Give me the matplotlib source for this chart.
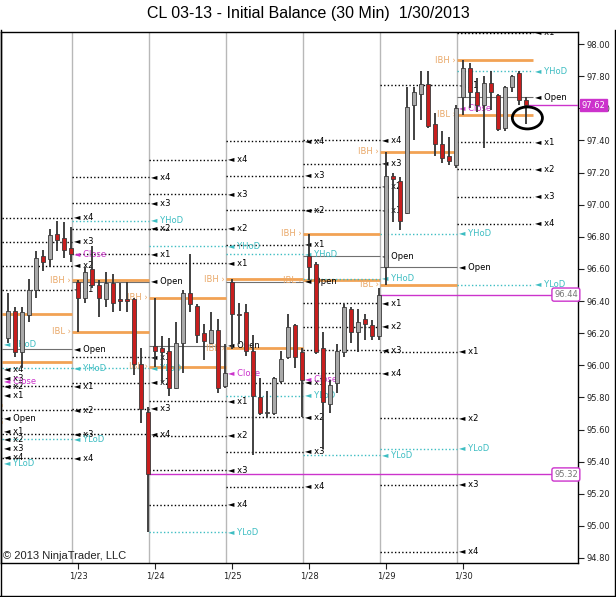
import numpy as np
import matplotlib.pyplot as plt
from matplotlib.patches import Ellipse
from matplotlib.lines import Line2D
import matplotlib.transforms as mtransforms

plt.rcParams['font.family'] = ['DejaVu Sans']

# 30 min bars, CL 03-13, 1/22 (partly visible) .. 1/30
opens = [96.17, 96.34, 96.08, 96.31, 96.47, 96.68, 96.66, 96.82, 96.79, 96.73,
         96.52, 96.42, 96.60, 96.50, 96.41, 96.51, 96.41, 96.41, 96.41, 96.01, 95.71,
         96.12, 96.11, 96.09, 95.86, 96.14, 96.45, 96.37, 96.20, 96.14, 96.22, 95.87,
         96.52, 96.32, 96.33, 96.09, 95.80, 95.70, 95.70, 95.90, 96.05, 96.25, 96.08,
         96.68, 96.63, 96.11, 95.76, 95.89, 96.08, 96.35, 96.21, 96.29, 96.25, 96.18,
         96.61, 97.18, 97.15, 96.95, 97.62, 97.69, 97.75, 97.50, 97.38, 97.30, 97.25,
         97.67, 97.85, 97.70, 97.62, 97.76, 97.68, 97.48, 97.73, 97.82, 97.65]
highs = [96.45, 96.36, 96.36, 96.54, 96.71, 96.72, 96.85, 96.90, 96.89, 96.86,
         96.53, 96.61, 96.74, 96.53, 96.58, 96.57, 96.51, 96.52, 96.42, 96.11, 95.74,
         96.42, 96.18, 96.17, 96.27, 96.47, 96.69, 96.38, 96.26, 96.33, 96.29, 96.13,
         96.54, 96.39, 96.38, 96.19, 95.92, 95.84, 95.93, 96.09, 96.32, 96.26, 96.11,
         96.82, 96.64, 96.21, 95.91, 96.13, 96.38, 96.36, 96.35, 96.32, 96.28, 96.48,
         97.33, 97.20, 97.17, 97.73, 97.73, 97.83, 97.83, 97.57, 97.46, 97.42, 97.62,
         97.90, 97.88, 97.79, 97.80, 97.83, 97.69, 97.74, 97.81, 97.83, 97.67]
lows = [96.14, 96.05, 95.98, 96.27, 96.42, 96.59, 96.61, 96.71, 96.67, 96.64,
        96.21, 96.39, 96.48, 96.30, 96.36, 96.33, 96.34, 96.33, 95.94, 95.64, 94.96,
        95.99, 95.89, 95.81, 95.85, 95.95, 96.33, 96.14, 96.03, 96.13, 95.83, 95.86,
        96.10, 96.13, 96.06, 95.44, 95.69, 95.68, 95.69, 95.89, 96.04, 95.98, 95.68,
        96.53, 96.07, 95.48, 95.70, 95.83, 96.05, 96.14, 96.08, 96.16, 96.16, 96.16,
        96.50, 96.89, 96.84, 96.94, 97.40, 97.53, 97.48, 97.30, 97.26, 97.25, 97.23,
        97.56, 97.60, 97.58, 97.35, 97.59, 97.46, 97.46, 97.70, 97.62, 97.50]
closes = [96.34, 96.08, 96.33, 96.47, 96.67, 96.64, 96.81, 96.78, 96.72, 96.69,
          96.42, 96.58, 96.50, 96.42, 96.51, 96.39, 96.40, 96.40, 96.01, 95.73, 95.32,
          96.09, 96.08, 95.86, 96.14, 96.45, 96.38, 96.19, 96.15, 96.22, 95.86, 95.95,
          96.32, 96.31, 96.09, 95.81, 95.70, 95.71, 95.92, 96.04, 96.24, 96.05, 95.91,
          96.61, 96.08, 95.77, 95.88, 96.09, 96.36, 96.21, 96.27, 96.26, 96.18, 96.44,
          97.18, 97.16, 96.90, 97.61, 97.70, 97.75, 97.49, 97.38, 97.29, 97.27, 97.60,
          97.85, 97.70, 97.62, 97.76, 97.70, 97.47, 97.73, 97.80, 97.65, 97.62]

# Initial balance indicator levels per session
level_days = ['1/18', '1/22', '1/23', '1/24', '1/25', '1/28', '1/29', '1/30']
bars_per_day = [0, 10, 11, 11, 11, 11, 11, 10]
ib_high = [95.755, 96.32, 96.53, 96.42, 96.535, 96.82, 97.33, 97.90]
ib_low = [95.645, 96.02, 96.21, 95.99, 96.105, 96.53, 96.50, 97.56]
day_open = [95.67, 96.10, 96.52, 96.12, 96.52, 96.68, 96.61, 97.67]
y_high = [96.13, 95.98, 96.90, 96.74, 96.69, 96.54, 96.82, 97.83]
y_low = [95.39, 95.54, 95.98, 94.96, 95.81, 95.44, 95.48, 96.50]
day_close = [95.90, 96.69, 95.32, 95.95, 95.91, 96.44, 97.60, None]

# horizontal price lines drawn by hand
marked_closes = [95.32, 96.44]
marked_days = ['1/23', '1/28']

RED = '#c81e1e'
GRAY = '#a9a9a9'
ORANGE = '#f2a254'
TEAL = '#3dbdc2'
MAGENTA = '#cc33cc'
LABEL_ORANGE = '#e9a868'
DOT = (0, (1, 1.6))

fig = plt.figure(figsize=(6.16, 5.97), dpi=100)
ax = fig.add_axes([0.0016, 0.057, 0.9367, 0.8894])

n = len(opens)
idx = np.arange(n)
first = np.concatenate([[0], np.cumsum(bars_per_day)])
ymin, ymax = 94.769, 98.075

# session breaks
for k in range(1, len(level_days) - 1):
    ax.axvline(first[k + 1] - 0.86, color='#b8b8b8', lw=1, zorder=1)

def label(x, y, txt, color):
    if ymin < y < ymax:
        ax.text(x, y, '\u25c4 ' + txt, color=color, fontsize=6, ha='left',
                va='center', zorder=3, clip_on=True)

for k, day in enumerate(level_days):
    start = first[k] - 0.86 if bars_per_day[k] else -10
    end = first[k + 1] - 0.86 if k < len(level_days) - 1 else n
    half = (ib_high[k] - ib_low[k]) / 2
    ax.hlines([ib_high[k], ib_low[k]], start, end, color=ORANGE, lw=2, zorder=2)
    ax.hlines(day_open[k], start, end, color='#707070', lw=0.8, zorder=2)
    ax.hlines([y_high[k], y_low[k]], start, end, color=TEAL, lw=1, linestyles=DOT, zorder=2)
    if start > 2:
        ax.text(start - 0.15, ib_high[k], 'IBH \u203a', color=LABEL_ORANGE, fontsize=6,
                ha='right', va='center', zorder=3)
        ax.text(start - 0.15, ib_low[k], 'IBL \u203a', color=LABEL_ORANGE, fontsize=6,
                ha='right', va='center', zorder=3)
    lx = end + 0.35
    for m in range(1, 5):
        up_lvl = ib_high[k] + m * half
        dn_lvl = ib_low[k] - m * half
        ax.hlines([up_lvl, dn_lvl], start, end, color='black', lw=1, linestyles=DOT, zorder=2)
        label(lx, up_lvl, 'x%d' % m, 'black')
        label(lx, dn_lvl, 'x%d' % m, 'black')
    label(lx, day_open[k], 'Open', 'black')
    label(lx, y_high[k], 'YHoD', TEAL)
    label(lx, y_low[k], 'YLoD', TEAL)
    if day_close[k] is not None and day not in marked_days:
        label(lx, day_close[k], 'Close', MAGENTA)

# candles
o = np.array(opens); h = np.array(highs); l = np.array(lows); c = np.array(closes)
colors = np.where(c >= o, GRAY, RED)
ax.vlines(idx, l, h, color='#333333', lw=1.3, zorder=4)
body_lo = np.minimum(o, c)
body_h = np.maximum(np.abs(c - o), 0.007)
ax.bar(idx, body_h, 0.7, bottom=body_lo, color=colors, edgecolor='#3a3a3a',
       linewidth=0.6, zorder=5)

# marked closes
for price, day in zip(marked_closes, marked_days):
    k = level_days.index(day)
    ax.hlines(price, first[k + 1] - 1, 78.1, color=MAGENTA, lw=1, zorder=3)
    ax.text(79.7, price, '%.2f' % price, color='#777777', fontsize=6, ha='center',
            va='center', zorder=6,
            bbox=dict(boxstyle='round,pad=0.25', fc='white', ec=MAGENTA, lw=1))

# last price marker
last_price = closes[-1]
ax.hlines(last_price, n - 0.7, 81.5, color=MAGENTA, lw=1, zorder=3)
trans = mtransforms.blended_transform_factory(ax.transAxes, ax.transData)
ax.text(1.006, last_price, '%.2f' % last_price, transform=trans, ha='left', va='center',
        color='white', fontsize=6, zorder=10, clip_on=False,
        bbox=dict(boxstyle='square,pad=0.2', fc=MAGENTA, ec=MAGENTA))
ax.add_patch(Ellipse((n - 1 + 0.2, 97.54), 4.3, 0.137, fill=False, ec='black',
                     lw=2, zorder=6))

# axes
ax.set_xlim(-1.0, 81.43)
ax.set_ylim(ymin, ymax)
yt = np.round(np.arange(94.8, 98.001, 0.2), 2)
ax.set_yticks(yt)
ax.set_yticklabels(['%.2f' % v for v in yt])
ax.yaxis.tick_right()
ax.tick_params(axis='y', direction='out', length=4, labelsize=6, pad=2, colors='#222222')
ax.set_xticks(first[2:8])
ax.set_xticklabels(level_days[2:])
ax.tick_params(axis='x', direction='out', length=4, labelsize=6, pad=2, colors='#222222')
for s in ax.spines.values():
    s.set_color('black')
    s.set_linewidth(1)

fig.text(0.5, 0.978, 'CL 03-13 - Initial Balance (30 Min)  1/30/2013', ha='center',
         va='center', fontsize=11.5, family='Liberation Sans')
fig.text(0.005, 0.069, '\u00a9 2013 NinjaTrader, LLC', ha='left', va='center',
         fontsize=8, family='Liberation Sans', color='#222222')

# outer frame
for xs, ys in [([0.001, 0.001], [0, 0.95]), ([0.999, 0.999], [0, 0.95]), ([0, 1], [0.001, 0.001])]:
    fig.add_artist(Line2D(xs, ys, transform=fig.transFigure, color='black', lw=1))

fig.savefig('out.png', dpi=100)
